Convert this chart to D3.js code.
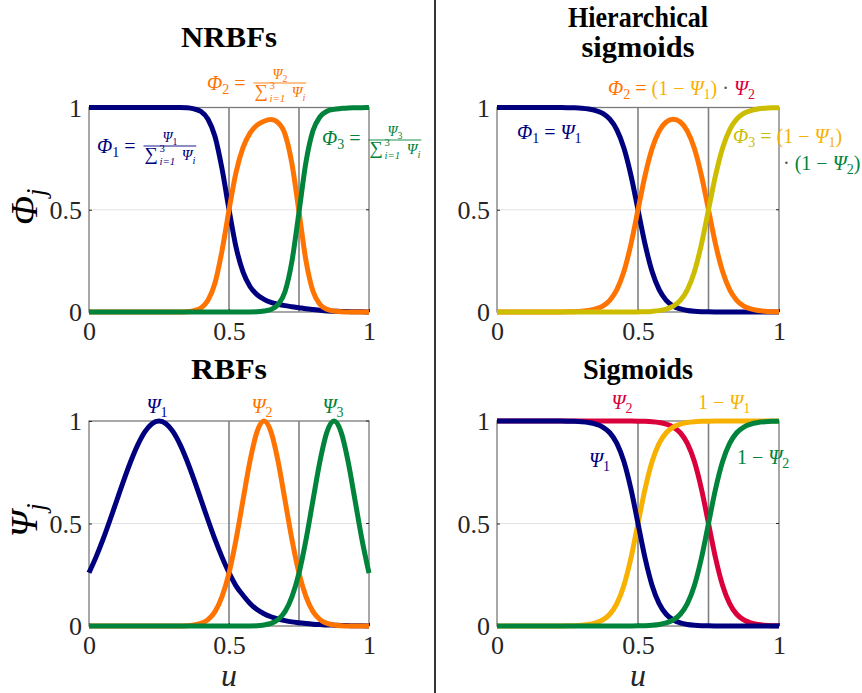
<!DOCTYPE html>
<html>
<head>
<meta charset="utf-8">
<script src="https://cdn.jsdelivr.net/npm/d3@7"></script>
<style>
  html, body { margin: 0; padding: 0; background: #fff; }
  svg text { white-space: pre; font-family: "Liberation Serif", "DejaVu Serif", serif !important; }
</style>
</head>
<body>
<svg id="chart" width="862" height="693"></svg>
<script>
// ---------------- data ----------------
const u = [0,0.025,0.05,0.075,0.1,0.125,0.15,0.175,0.2,0.225,0.25,0.275,0.3,0.325,0.35,0.375,0.4,0.425,0.45,0.475,0.5,0.525,0.55,0.575,0.6,0.625,0.65,0.675,0.7,0.725,0.75,0.775,0.8,0.825,0.85,0.875,0.9,0.925,0.95,0.975,1];

// NRBFs  Phi_j
const nrbf1 = [1,1,1,1,1,1,1,1,1,1,1,1,1,1,0.999,0.993,0.98,0.943,0.858,0.701,0.502,0.318,0.196,0.125,0.085,0.062,0.047,0.038,0.031,0.026,0.021,0.016,0.012,0.008,0.005,0.004,0.003,0.002,0.0015,0.001,0];
const nrbf2 = [0,0,0,0,0,0,0,0,0,0,0,0,0,0,0.001,0.007,0.02,0.057,0.142,0.299,0.498,0.682,0.804,0.875,0.914,0.933,0.941,0.926,0.87,0.724,0.49,0.25,0.101,0.037,0.013,0.005,0.0015,0,0,0,0];
const nrbf3 = [0,0,0,0,0,0,0,0,0,0,0,0,0,0,0,0,0,0,0,0,0,0,0,0,0.001,0.005,0.012,0.036,0.099,0.25,0.489,0.734,0.887,0.955,0.982,0.991,0.995,0.998,0.9985,0.999,1];

// Hierarchical sigmoids  Phi_j
const hier1 = [1,1,1,1,1,1,1,0.9999,0.9998,0.9995,0.9991,0.9982,0.9963,0.9926,0.9852,0.9707,0.9427,0.8909,0.8022,0.6682,0.5,0.3318,0.1978,0.1091,0.0573,0.0293,0.0148,0.0074,0.0037,0.0018,0.0009,0.0005,0.0002,0.0001,0,0,0,0,0,0,0];
const hier2 = [0,0,0,0,0,0,0,0.0001,0.0002,0.0005,0.0009,0.0018,0.0037,0.0074,0.0148,0.0293,0.0573,0.1091,0.1978,0.3316,0.4996,0.667,0.7992,0.8843,0.9287,0.9423,0.9287,0.8843,0.7992,0.667,0.4996,0.3316,0.1978,0.1091,0.0573,0.0293,0.0148,0.0074,0.0037,0.0018,0.0009];
const hier3 = [0,0,0,0,0,0,0,0,0,0,0,0,0,0,0,0,0,0,0,0,0.0005,0.0012,0.003,0.0066,0.014,0.0286,0.0565,0.1083,0.1971,0.3312,0.4996,0.6679,0.802,0.8908,0.9427,0.9707,0.9852,0.9926,0.9963,0.9982,0.9991];

// RBFs  Psi_j
const rbf1 = [0.26,0.336,0.422,0.517,0.616,0.714,0.806,0.886,0.948,0.987,1,0.987,0.948,0.886,0.806,0.714,0.616,0.517,0.422,0.336,0.26,0.196,0.15,0.11,0.08,0.06,0.045,0.034,0.026,0.02,0.016,0.012,0.009,0.007,0.005,0.004,0.003,0.002,0.001,0.001,0];
const rbf2 = [0,0,0,0,0,0,0,0,0,0,0,0,0,0,0.001,0.005,0.0125,0.031,0.07,0.143,0.258,0.421,0.614,0.805,0.947,1,0.947,0.805,0.614,0.421,0.258,0.143,0.07,0.031,0.0125,0.005,0.001,0,0,0,0];
const rbf3 = [0,0,0,0,0,0,0,0,0,0,0,0,0,0,0,0,0,0,0,0,0,0,0,0,0.001,0.005,0.0125,0.031,0.07,0.143,0.258,0.421,0.614,0.805,0.947,1,0.947,0.805,0.614,0.421,0.258];

// Sigmoids  Psi_1, Psi_2, 1-Psi_1, 1-Psi_2
const sig1 = [1,1,1,1,1,1,1,0.9999,0.9998,0.9995,0.9991,0.9982,0.9963,0.9926,0.9852,0.9707,0.9427,0.8909,0.8022,0.6682,0.5,0.3318,0.1978,0.1091,0.0573,0.0293,0.0148,0.0074,0.0037,0.0018,0.0009,0.0005,0.0002,0.0001,0,0,0,0,0,0,0];
const sig2 = [1,1,1,1,1,1,1,1,1,1,1,1,1,1,1,1,1,0.9999,0.9998,0.9995,0.9991,0.9982,0.9963,0.9926,0.9852,0.9707,0.9427,0.8909,0.8022,0.6682,0.5,0.3318,0.1978,0.1091,0.0573,0.0293,0.0148,0.0074,0.0037,0.0018,0.0009];
const comp1 = [0,0,0,0,0,0,0,0.0001,0.0002,0.0005,0.0009,0.0018,0.0037,0.0074,0.0148,0.0293,0.0573,0.1091,0.1978,0.3318,0.5,0.6682,0.8022,0.8909,0.9427,0.9707,0.9852,0.9926,0.9963,0.9982,0.9991,0.9995,0.9998,0.9999,1,1,1,1,1,1,1];
const comp2 = [0,0,0,0,0,0,0,0,0,0,0,0,0,0,0,0,0,0.0001,0.0002,0.0005,0.0009,0.0018,0.0037,0.0074,0.0148,0.0293,0.0573,0.1091,0.1978,0.3318,0.5,0.6682,0.8022,0.8909,0.9427,0.9707,0.9852,0.9926,0.9963,0.9982,0.9991];

const xTicks = [0, 0.5, 1];
const xTickLabels = ["0", "0.5", "1"];
const yTicks = [0, 0.5, 1];
const yTickLabels = ["0", "0.5", "1"];
const vLines = [0.5, 0.75];
const titles = ["NRBFs", "Hierarchical\nsigmoids", "RBFs", "Sigmoids"];

// ---------------- style ----------------
const C = {
  navy: "#00007f", orange: "#ff7400", green: "#00833a", olive: "#cdbd00",
  yellow: "#f7b100", crimson: "#d9003c", dot: "#555555", text: "#262626"
};
const SERIF = '"Liberation Serif", "DejaVu Serif", serif';
const LW = 5;

const svg = d3.select("#chart");
svg.append("rect").attr("width", 862).attr("height", 693).attr("fill", "#fff");

// math text helper: parts = [text, style('i' italic,'s' sub,'S' sup), color]
function mtext(sel, x, y, parts, size, anchor, color) {
  const t = sel.append("text").attr("x", x).attr("y", y)
    .style("font-family", SERIF).attr("font-size", size)
    .attr("text-anchor", anchor || "start").attr("fill", color || C.text)
    .attr("xml:space", "preserve");
  let cur = 0;
  parts.forEach(p => {
    const txt = p[0], st = p[1] || "", col = p[2];
    let off = 0, fs = size;
    if (st.includes("s")) { off = size * 0.22; fs = size * 0.7; }
    if (st.includes("S")) { off = -size * 0.4; fs = size * 0.7; }
    const ts = t.append("tspan").text(txt).attr("dy", off - cur).attr("font-size", fs);
    cur = off;
    if (st.includes("i")) ts.attr("font-style", "italic");
    if (col) ts.attr("fill", col);
  });
  return t;
}

// lhs "Phi_k = " followed by fraction Psi_k / sum_{i=1}^3 Psi_i
function fracEq(sel, x0, base, barY, color, k) {
  const lhs = mtext(sel, x0, base, [["Φ", "i"], [k, "s"], [" = "]], 20, "start", color);
  const left = x0 + lhs.node().getComputedTextLength() + 3;
  const size = 15;
  const den = sel.append("g");
  const s = den.append("text").attr("x", 0).attr("y", 0).style("font-family", SERIF)
    .attr("font-size", size * 1.25).attr("fill", color).text("∑");
  let x = s.node().getComputedTextLength() + 1.5;
  const sup = den.append("text").attr("x", x).attr("y", -size * 0.55).style("font-family", SERIF)
    .attr("font-size", size * 0.72).attr("fill", color).text("3");
  const sub = den.append("text").attr("x", x).attr("y", size * 0.34).style("font-family", SERIF)
    .attr("font-size", size * 0.72).attr("fill", color).attr("font-style", "italic").text("i=1");
  x += Math.max(sup.node().getComputedTextLength(), sub.node().getComputedTextLength()) + size * 0.45;
  const p = mtext(den, x, 0, [["Ψ", "i"], ["i", "is"]], size, "start", color);
  const total = x + p.node().getComputedTextLength();
  den.attr("transform", `translate(${left + 1},${barY + size * 0.95})`);
  const cx = left + 1 + total / 2;
  mtext(sel, cx, barY - size * 0.28, [["Ψ", "i"], [k, "s"]], 14, "middle", color);
  sel.append("line").attr("x1", left).attr("x2", left + total + 2)
    .attr("y1", barY).attr("y2", barY).attr("stroke", color).attr("stroke-width", 0.9);
}

// ---------------- panels ----------------
const panels = [
  { x0: 89, x1: 369, y0: 107.5, y1: 312, title: titles[0], titleY: [47], titleW: [96],
    series: [[nrbf1, C.navy], [nrbf2, C.orange], [nrbf3, C.green]], ylab: "Φ" },
  { x0: 497, x1: 779, y0: 107.5, y1: 312, title: titles[1], titleY: [27, 57], titleW: [140, 113],
    series: [[hier1, C.navy], [hier2, C.orange], [hier3, C.olive]] },
  { x0: 89, x1: 369, y0: 421, y1: 626, title: titles[2], titleY: [379], titleW: [76],
    series: [[rbf1, C.navy], [rbf2, C.orange], [rbf3, C.green]], ylab: "Ψ", xlab: true },
  { x0: 497, x1: 779, y0: 421, y1: 626, title: titles[3], titleY: [379], titleW: [110],
    series: [[sig2, C.crimson], [comp1, C.yellow], [sig1, C.navy], [comp2, C.green]], xlab: true }
];

panels.forEach(P => {
  const x = d3.scaleLinear().domain([0, 1]).range([P.x0, P.x1]);
  const y = d3.scaleLinear().domain([0, 1]).range([P.y1, P.y0]);
  const g = svg.append("g");

  // grid at 0.5
  g.append("line").attr("x1", P.x0).attr("x2", P.x1).attr("y1", y(0.5)).attr("y2", y(0.5))
    .attr("stroke", "#e3e3e3").attr("stroke-width", 1);

  // box
  g.append("rect").attr("x", P.x0).attr("y", P.y0).attr("width", P.x1 - P.x0).attr("height", P.y1 - P.y0)
    .attr("fill", "none").attr("stroke", "#7a7a7a").attr("stroke-width", 1.3);

  // vertical reference lines
  vLines.forEach(v => g.append("line").attr("x1", x(v)).attr("x2", x(v)).attr("y1", P.y0).attr("y2", P.y1)
    .attr("stroke", "#808080").attr("stroke-width", 1.6));

  // axes (ticks inward, labels)
  const ax = d3.axisBottom(x).tickValues(xTicks).tickFormat((d, i) => xTickLabels[i]).tickSizeInner(-3).tickSizeOuter(0).tickPadding(10);
  const ay = d3.axisLeft(y).tickValues(yTicks).tickFormat((d, i) => yTickLabels[i]).tickSizeInner(-3).tickSizeOuter(0).tickPadding(7);
  const gx = g.append("g").attr("transform", `translate(0,${P.y1})`).call(ax);
  const gy = g.append("g").attr("transform", `translate(${P.x0},0)`).call(ay);
  [gx, gy].forEach(a => {
    a.attr("font-family", null);
    a.select(".domain").remove();
    a.selectAll("line").attr("stroke", "#262626").attr("stroke-width", 1);
    a.selectAll("text").style("font-family", SERIF).attr("font-size", 26).attr("fill", C.text);
  });
  gx.selectAll("text").attr("dy", "0.71em");
  gy.selectAll("text").attr("dy", "0.34em");
  // right-side ticks
  yTicks.forEach(t => g.append("line").attr("x1", P.x1).attr("x2", P.x1 - 3).attr("y1", y(t)).attr("y2", y(t))
    .attr("stroke", "#262626").attr("stroke-width", 1));

  // curves
  const line = d3.line().x((d, i) => x(u[i])).y(d => y(d)).curve(d3.curveMonotoneX);
  P.series.forEach(([vals, col]) => {
    g.append("path").attr("d", line(vals)).attr("fill", "none").attr("stroke", col)
      .attr("stroke-width", LW).attr("stroke-linejoin", "round");
  });

  // title
  const cx = (P.x0 + P.x1) / 2;
  P.title.split("\n").forEach((t, i) => {
    svg.append("text").attr("x", cx).attr("y", P.titleY[i]).attr("text-anchor", "middle")
      .style("font-family", SERIF).attr("font-weight", "bold").attr("font-size", 29)
      .attr("textLength", P.titleW[i]).attr("lengthAdjust", "spacingAndGlyphs")
      .attr("fill", "#000").text(t);
  });

  // y label
  if (P.ylab) {
    const ly = (P.y0 + P.y1) / 2 - 3;
    const gl = svg.append("g").attr("transform", `translate(37,${ly}) rotate(-90)`);
    mtext(gl, 0, 0, [[P.ylab, "i"], ["j", "is"]], 38, "middle", "#000");
  }
  // x label
  if (P.xlab) {
    svg.append("text").attr("x", cx).attr("y", 686).attr("text-anchor", "middle")
      .style("font-family", SERIF).attr("font-style", "italic").attr("font-size", 32)
      .attr("fill", C.text).text("u");
  }
});

// divider
svg.append("line").attr("x1", 435).attr("x2", 435).attr("y1", 0).attr("y2", 693)
  .attr("stroke", "#000").attr("stroke-width", 1.6);

// ---------------- annotations ----------------
const A = svg.append("g");
// NRBFs
fracEq(A, 97, 153, 146, C.navy, "1");
fracEq(A, 207, 90, 83, C.orange, "2");
fracEq(A, 322, 145, 140, C.green, "3");

// Hierarchical sigmoids
mtext(A, 608, 95, [["Φ", "i", C.orange], ["2", "s", C.orange], [" = ", "", C.orange],
  ["(1 − ", "", C.yellow], ["Ψ", "i", C.yellow], ["1", "s", C.yellow], [")", "", C.yellow],
  [" · ", "", C.dot], ["Ψ", "i", C.crimson], ["2", "s", C.crimson]], 20, "start", C.text);
mtext(A, 517, 139, [["Φ", "i"], ["1", "s"], [" = "], ["Ψ", "i"], ["1", "s"]], 20, "start", C.navy);
mtext(A, 733, 143, [["Φ", "i", C.olive], ["3", "s", C.olive], [" = ", "", C.olive],
  ["(1 − ", "", C.yellow], ["Ψ", "i", C.yellow], ["1", "s", C.yellow], [")", "", C.yellow]], 20, "start", C.text);
mtext(A, 783, 170, [["· ", "", C.dot], ["(1 − ", "", C.green], ["Ψ", "i", C.green], ["2", "s", C.green], [")", "", C.green]], 20, "start", C.text);

// RBFs
mtext(A, 157, 413, [["Ψ", "i"], ["1", "s"]], 20, "middle", C.navy);
mtext(A, 262, 413, [["Ψ", "i"], ["2", "s"]], 20, "middle", C.orange);
mtext(A, 333, 413, [["Ψ", "i"], ["3", "s"]], 20, "middle", C.green);

// Sigmoids
mtext(A, 622, 409, [["Ψ", "i"], ["2", "s"]], 20, "middle", C.crimson);
mtext(A, 698, 409, [["1 − "], ["Ψ", "i"], ["1", "s"]], 20, "start", C.yellow);
mtext(A, 589, 467, [["Ψ", "i"], ["1", "s"]], 20, "start", C.navy);
mtext(A, 737, 464, [["1 − "], ["Ψ", "i"], ["2", "s"]], 20, "start", C.green);
</script>
</body>
</html>
